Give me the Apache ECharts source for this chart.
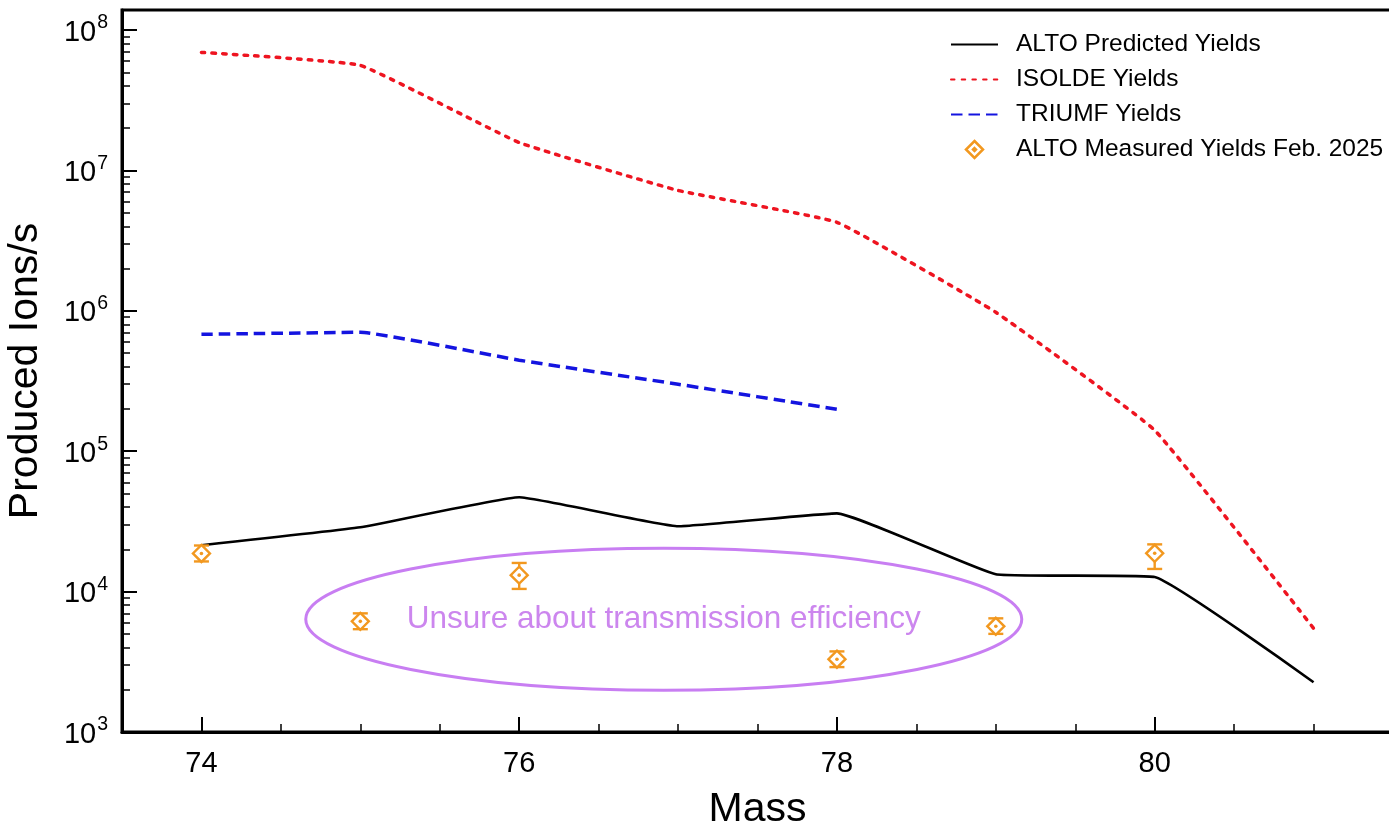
<!DOCTYPE html>
<html>
<head>
<meta charset="utf-8">
<script src="https://cdn.jsdelivr.net/npm/echarts@6/dist/echarts.min.js"></script>
<style>
  html, body { margin: 0; padding: 0; background: #fff; }
  #main { width: 1389px; height: 830px; }
</style>
</head>
<body>
<div id="main"></div>
<script>
// masses
var mass = [74, 75, 76, 77, 78, 79, 80, 81];
var altoPredicted = [2.14e4, 2.87e4, 4.7e4, 2.92e4, 3.61e4, 1.33e4, 1.27e4, 2.26e3];
var isoldeYields = [6.93e7, 5.6e7, 1.58e7, 7.2e6, 4.27e6, 9.76e5, 1.41e5, 5.48e3];
var triumfMass = [74, 75, 76, 77, 78];
var triumfYields = [6.8e5, 7.03e5, 4.45e5, 3.0e5, 1.99e5];
// measured points with error bars
var measMass = [74, 75, 76, 78, 79, 80];
var measVal = [1.87e4, 6.14e3, 1.31e4, 3.3e3, 5.66e3, 1.875e4];
var measLow = [1.64e4, 5.4e3, 1.045e4, 2.9e3, 5.0e3, 1.45e4];
var measHigh = [2.13e4, 7.0e3, 1.6e4, 3.75e3, 6.45e3, 2.17e4];

var xMajor = [74, 76, 78, 80];
var xMinor = [74.5, 75, 75.5, 76.5, 77, 77.5, 78.5, 79, 79.5, 80.5, 81];
var yMajor = [1e3, 1e4, 1e5, 1e6, 1e7, 1e8];
var yMinor = [];
for (var e = 3; e < 8; e++) {
  for (var m = 2; m <= 9; m++) yMinor.push(m * Math.pow(10, e));
}

var FONT = "'Liberation Sans', Arial, Helvetica, sans-serif";
var ORANGE = '#f2981f';
var PURPLE = '#c87ef2';

function zip(xs, ys) {
  return xs.map(function (x, i) { return [x, ys[i]]; });
}
var measData = measMass.map(function (x, i) {
  return [x, measVal[i], measLow[i], measHigh[i]];
});

var chart = echarts.init(document.getElementById('main'));

var hideSym = { opacity: 0 };
var option = {
  backgroundColor: '#fff',
  animation: false,
  grid: {
    left: 122, top: 10, right: -4, bottom: 98,
    outerBoundsMode: 'none',
    containLabel: false,
    show: true, borderColor: '#000', borderWidth: 3
  },
  legend: {
    orient: 'vertical',
    left: 945,
    top: 27,
    itemWidth: 47,
    itemHeight: 17,
    itemGap: 10,
    textStyle: { fontFamily: FONT, fontSize: 24.5, color: '#000', lineHeight: 25, padding: [0, 0, 0, 13] },
    data: [
      { name: 'ALTO Predicted Yields', itemStyle: hideSym },
      { name: 'ISOLDE Yields', itemStyle: hideSym },
      { name: 'TRIUMF Yields', itemStyle: hideSym },
      {
        name: 'ALTO Measured Yields Feb. 2025',
        icon: 'path://M8,0 L16,8 L8,16 L0,8 Z M8,6.6 L9.4,8 L8,9.4 L6.6,8 Z',
        itemStyle: { color: '#fff', borderColor: ORANGE, borderWidth: 2.5 }
      }
    ]
  },
  xAxis: [{
    type: 'value',
    min: 73.5,
    max: 81.5,
    name: 'Mass',
    nameLocation: 'middle',
    nameGap: 57,
    nameTextStyle: { fontFamily: FONT, fontSize: 41, color: '#000' },
    axisLine: { show: true, lineStyle: { color: '#000', width: 3 } },
    axisTick: { show: true, inside: true, length: 15, customValues: xMajor, lineStyle: { color: '#000', width: 2 } },
    axisLabel: { customValues: xMajor, fontFamily: FONT, fontSize: 29, color: '#000', margin: 17 },
    splitLine: { show: false }
  }, {
    type: 'value',
    min: 73.5,
    max: 81.5,
    position: 'bottom',
    axisLine: { show: false },
    axisTick: { show: true, inside: true, length: 8, customValues: xMinor, lineStyle: { color: '#000', width: 1.5 } },
    axisLabel: { show: false },
    splitLine: { show: false }
  }],
  yAxis: [{
    type: 'log',
    min: 1e3,
    max: 1.389e8,
    name: 'Produced Ions/s',
    nameLocation: 'middle',
    nameGap: 76,
    nameTextStyle: { fontFamily: FONT, fontSize: 41, color: '#000' },
    axisLine: { show: true, lineStyle: { color: '#000', width: 3 } },
    axisTick: { show: true, inside: true, length: 15, customValues: yMajor, lineStyle: { color: '#000', width: 2 } },
    axisLabel: {
      customValues: yMajor,
      margin: 14,
      formatter: function (v) {
        return '{b|10}{s|' + Math.round(Math.log10(v)) + '}';
      },
      rich: {
        b: { fontFamily: FONT, fontSize: 29, color: '#000', verticalAlign: 'bottom' },
        s: { fontFamily: FONT, fontSize: 19.5, color: '#000', verticalAlign: 'top', padding: [0, 0, 14, 1] }
      }
    },
    splitLine: { show: false }
  }, {
    type: 'log',
    min: 1e3,
    max: 1.389e8,
    position: 'left',
    axisLine: { show: false },
    axisTick: { show: true, inside: true, length: 8, customValues: yMinor, lineStyle: { color: '#000', width: 1.5 } },
    axisLabel: { show: false },
    splitLine: { show: false }
  }],
  series: [
    {
      name: 'ALTO Predicted Yields',
      type: 'line',
      data: zip(mass, altoPredicted),
      symbol: 'none',
      smooth: 0.1,
      color: '#000',
      lineStyle: { color: '#000', width: 2.6 },
      z: 3
    },
    {
      name: 'ISOLDE Yields',
      type: 'line',
      data: zip(mass, isoldeYields),
      symbol: 'none',
      smooth: 0.1,
      color: '#ee1420',
      lineStyle: { color: '#ee1420', width: 3.5, type: [3.5, 7.2], cap: 'round' },
      z: 3
    },
    {
      name: 'TRIUMF Yields',
      type: 'line',
      data: zip(triumfMass, triumfYields),
      symbol: 'none',
      smooth: 0.1,
      color: '#1414e0',
      lineStyle: { color: '#1414e0', width: 3.5, type: [11.5, 6] },
      z: 3
    },
    {
      name: 'ALTO Measured Yields Feb. 2025',
      type: 'custom',
      color: ORANGE,
      encode: { x: 0, y: 1 },
      data: measData,
      z: 4,
      renderItem: function (params, api) {
        var c = api.coord([api.value(0), api.value(1)]);
        var lo = api.coord([api.value(0), api.value(2)]);
        var hi = api.coord([api.value(0), api.value(3)]);
        var h = 8.5, cap = 7.5;
        var st = { stroke: ORANGE, lineWidth: 2.4, fill: null };
        var kids = [];
        if (hi[1] < c[1] - h) {
          kids.push({ type: 'line', shape: { x1: c[0], y1: hi[1], x2: c[0], y2: c[1] - h }, style: st });
        }
        if (lo[1] > c[1] + h) {
          kids.push({ type: 'line', shape: { x1: c[0], y1: c[1] + h, x2: c[0], y2: lo[1] }, style: st });
        }
        kids.push({ type: 'line', shape: { x1: c[0] - cap, y1: hi[1], x2: c[0] + cap, y2: hi[1] }, style: st });
        kids.push({ type: 'line', shape: { x1: c[0] - cap, y1: lo[1], x2: c[0] + cap, y2: lo[1] }, style: st });
        kids.push({
          type: 'polygon',
          shape: { points: [[c[0], c[1] - h], [c[0] + h, c[1]], [c[0], c[1] + h], [c[0] - h, c[1]]] },
          style: { stroke: ORANGE, lineWidth: 2.4, fill: '#fff' }
        });
        kids.push({ type: 'circle', shape: { cx: c[0], cy: c[1], r: 1.8 }, style: { fill: ORANGE } });
        return { type: 'group', children: kids };
      }
    }
  ]
};
chart.setOption(option);

// annotation ellipse anchored in data space
var ctr = chart.convertToPixel({ xAxisIndex: 0, yAxisIndex: 0 }, [76.91, 6.35e3]);
chart.setOption({
  graphic: [
    {
      type: 'ellipse',
      shape: { cx: ctr[0], cy: ctr[1], rx: 358, ry: 71 },
      style: { fill: null, stroke: PURPLE, lineWidth: 3 },
      z: 2
    },
    {
      type: 'text',
      x: ctr[0],
      y: ctr[1],
      style: {
        text: 'Unsure about transmission efficiency',
        fontFamily: FONT,
        fontSize: 31.5,
        fill: '#cc86ee',
        align: 'center',
        verticalAlign: 'middle'
      },
      z: 2
    }
  ]
});
</script>
</body>
</html>
